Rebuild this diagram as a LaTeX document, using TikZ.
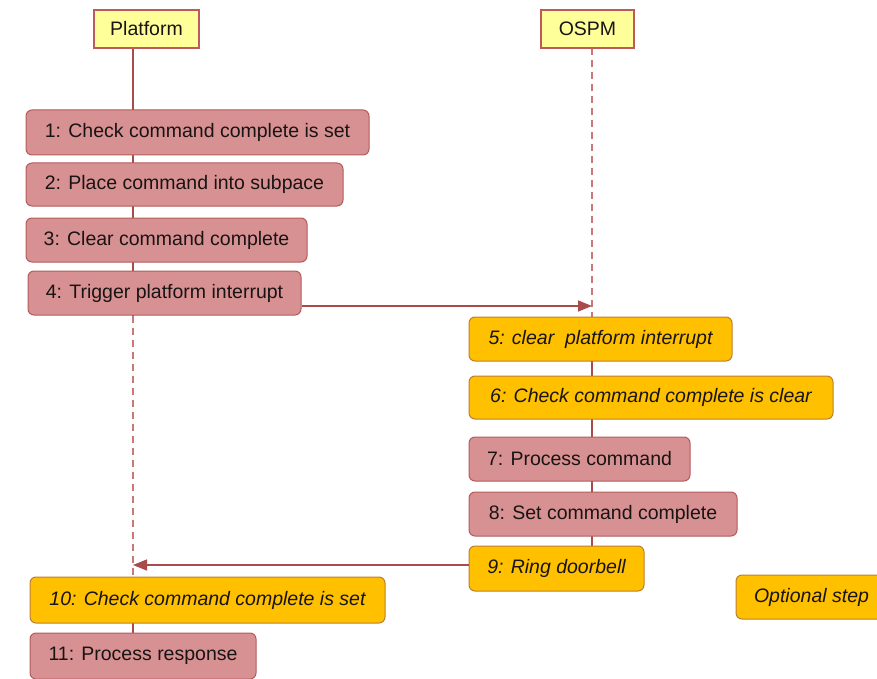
\documentclass[tikz,border=0pt]{standalone}
\usepackage{fontspec}
\setmainfont{Liberation Sans}
\usetikzlibrary{arrows.meta,backgrounds}
\definecolor{pinkfill}{RGB}{216,145,146}
\definecolor{pinkdraw}{RGB}{180,90,90}
\definecolor{orfill}{RGB}{255,192,0}
\definecolor{ordraw}{RGB}{190,125,45}
\definecolor{hdfill}{RGB}{255,255,153}
\definecolor{hddraw}{RGB}{190,90,90}
\definecolor{lifeln}{RGB}{170,75,75}
\definecolor{dashln}{RGB}{200,120,120}
\definecolor{txt}{RGB}{25,20,20}
\tikzset{
  basebox/.style={rounded corners=6pt, line width=1pt, inner sep=0pt, text=txt,
    font=\fontsize{19.5}{21}\selectfont},
  pinkbox/.style={basebox, fill=pinkfill, draw=pinkdraw},
  orbox/.style={basebox, fill=orfill, draw=ordraw, font=\fontsize{19.5}{21}\selectfont\itshape},
  headbox/.style={fill=hdfill, draw=hddraw, line width=1.2pt, inner sep=0pt, text=txt,
    minimum height=38pt, font=\fontsize{19.5}{21}\selectfont},
  solidlife/.style={draw=lifeln, line width=1.6pt},
  dashlife/.style={draw=dashln, line width=2pt, dash pattern=on 7pt off 5pt},
  msg/.style={draw=lifeln, line width=1.6pt, -{Triangle[length=14pt,width=11pt]}}
}
\begin{document}
\begin{tikzpicture}[x=1pt,y=-1pt]
\useasboundingbox (0,0) rectangle (877,679);
\node[headbox, minimum width=105pt] (P) at (146.5,29) {Platform};
\node[headbox, minimum width=93pt] (O) at (587.5,29) {OSPM};
\coordinate (PL) at (133,48);
\coordinate (OL) at (592,48);

\node[pinkbox, minimum width=343pt, minimum height=45pt] (b1) at (197.5,132.5) {1: Check command complete is set};
\node[pinkbox, minimum width=317pt, minimum height=43pt] (b2) at (184.5,184.5) {2: Place command into subpace};
\node[pinkbox, minimum width=281pt, minimum height=44pt] (b3) at (166.5,240) {3: Clear command complete};
\node[pinkbox, minimum width=273pt, minimum height=44pt] (b4) at (164.5,293) {4: Trigger platform interrupt};
\node[orbox, minimum width=263pt, minimum height=44pt] (b5) at (600.5,339) {5: clear\ \ platform interrupt};
\node[orbox, minimum width=364pt, minimum height=43pt] (b6) at (651,397.5) {6: Check command complete is clear};
\node[pinkbox, minimum width=221pt, minimum height=44pt] (b7) at (579.5,459) {7: Process command};
\node[pinkbox, minimum width=268pt, minimum height=44pt] (b8) at (603,514) {8: Set command complete};
\node[orbox, minimum width=175pt, minimum height=45pt] (b9) at (556.5,568.5) {9: Ring doorbell};
\node[orbox, minimum width=355pt, minimum height=46pt] (b10) at (207.5,600) {10: Check command complete is set};
\node[pinkbox, minimum width=226pt, minimum height=46pt] (b11) at (143,656) {11: Process response};
\node[orbox, minimum width=151pt, minimum height=44pt] (opt) at (811.5,597) {Optional step};

\coordinate (a4s) at (b4.east |- 0,306);
\coordinate (a4e) at (OL |- 0,306);
\coordinate (a9s) at (b9.west |- 0,565);
\coordinate (a9e) at (PL |- 0,565);

\begin{scope}[on background layer]
  \draw[solidlife] (PL) -- (PL |- b4.south);
  \draw[dashlife] (PL |- b4.south) -- (PL |- b10.north);
  \draw[solidlife] (PL |- b10.north) -- (PL |- b11.south);
  \draw[dashlife] (OL) -- (OL |- b5.north);
  \draw[solidlife] (OL |- b5.north) -- (OL |- b9.north);
\end{scope}
\draw[msg] (a4s) -- (a4e);
\draw[msg] (a9s) -- (a9e);
\end{tikzpicture}
\end{document}
